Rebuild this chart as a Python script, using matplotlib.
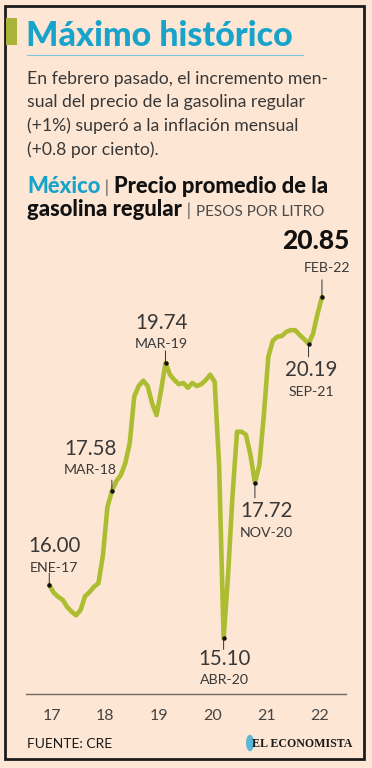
import matplotlib
matplotlib.use('Agg')
import matplotlib.pyplot as plt
from matplotlib.patches import Rectangle, Circle
from matplotlib.lines import Line2D

# precio promedio mensual, ene-17 a feb-22 (pesos por litro)
precio = [16.00, 15.87, 15.80, 15.75, 15.63, 15.55, 15.49, 15.58, 15.81, 15.88, 15.97, 16.03,
          16.50, 17.31, 17.58, 17.75, 17.85, 18.05, 18.39, 19.17, 19.35, 19.44, 19.35, 19.06,
          18.86, 19.27, 19.74, 19.54, 19.45, 19.38, 19.40, 19.32, 19.40, 19.35, 19.38, 19.45,
          19.54, 19.42, 18.00, 15.10, 16.17, 17.52, 18.58, 18.58, 18.53, 18.19, 17.72, 18.02,
          18.86, 19.84, 20.11, 20.18, 20.19, 20.26, 20.29, 20.29, 20.21, 20.14, 20.06, 20.23,
          20.56, 20.85]
meses = list(range(len(precio)))
anios = ['17', '18', '19', '20', '21', '22']

# puntos destacados
dest_idx = [0, 14, 26, 39, 46, 58, 61]
dest_valor = ['16.00', '17.58', '19.74', '15.10', '17.72', '20.19', '20.85']
dest_fecha = ['ENE-17', 'MAR-18', 'MAR-19', 'ABR-20', 'NOV-20', 'SEP-21', 'FEB-22']

W, H = 372, 768
BG = '#fde6d4'
LINE = '#adbd32'
CYAN = '#18a3ca'


def px(x, y):
    return x / W, 1 - y / H


fig = plt.figure(figsize=(W / 100, H / 100), dpi=100, facecolor=BG)

# marco
fig.add_artist(Rectangle(px(5, 759), 359 / W, 753 / H, transform=fig.transFigure,
                         fill=False, ec='#1c1c1c', lw=2))
fig.add_artist(Rectangle(px(6, 45), 11 / W, 27 / H, transform=fig.transFigure,
                         fc='#a9b33a', ec='none'))
fig.add_artist(Line2D([27 / W, 303 / W], [1 - 55 / H] * 2, transform=fig.transFigure,
                      color='#7cc6dd', lw=0.8))

fig.text(*px(26, 46), 'Máximo histórico', color=CYAN, fontsize=24.5, family='Lato',
         fontweight='black', va='baseline')

parrafo = ['En febrero pasado, el incremento men-',
           'sual del precio de la gasolina regular',
           '(+1%) superó a la inflación mensual',
           '(+0.8 por ciento).']
for i, linea in enumerate(parrafo):
    fig.text(*px(27, 84 + i * 23.5), linea, color='#383838', fontsize=12.7, family='Lato',
             fontweight='normal', va='baseline')

fig.canvas.draw()
renderer = fig.canvas.get_renderer()


def linea_mixta(x, y, piezas):
    for s, color, size, weight in piezas:
        t = fig.text(*px(x, y), s, color=color, fontsize=size, family='Lato',
                     fontweight=weight, va='baseline')
        bb = t.get_window_extent(renderer)
        x = bb.x1


linea_mixta(27, 193, [('México', CYAN, 15.8, 'black'), (' | ', '#666666', 13, 'normal'),
                      ('Precio promedio de la', '#111111', 15.8, 'black')])
linea_mixta(27, 216, [('gasolina regular', '#111111', 15.8, 'black'),
                      (' | ', '#666666', 13, 'normal'),
                      ('PESOS POR LITRO', '#4a4a4a', 11, 'normal')])

ax = fig.add_axes([26 / W, 1 - 694 / H, 320 / W, 464 / H])
ax.set_facecolor('none')
ax.plot(meses, precio, color=LINE, lw=3.3, solid_joinstyle='round', solid_capstyle='round')
ax.set_xlim(-5.21, 66.38)
ax.set_ylim(14.165, 21.976)
for s in ['top', 'left', 'right']:
    ax.spines[s].set_visible(False)
ax.spines['bottom'].set_color('#6e6864')
ax.spines['bottom'].set_linewidth(1)
ax.set_yticks([])
ax.set_xticks([12 * i + 0.5 for i in range(len(anios))], anios)
ax.tick_params(axis='x', length=0, pad=11, labelsize=11.5, labelcolor='#444444')
for lab in ax.get_xticklabels():
    lab.set_family('Lato')

# (largo tick, dx texto, dy valor, dy fecha, ha) en pixeles
estilo = {
    'ENE-17': (12, 5, 39, 17, 'center'),
    'MAR-18': (11, 5, 42, 21, 'right'),
    'MAR-19': (12, -4, 40, 19, 'center'),
    'ABR-20': (-11, 1, -21, -42, 'center'),
    'NOV-20': (-15, -15, -28, -50, 'left'),
    'SEP-21': (-13, 3, -26, -48, 'center'),
    'FEB-22': (17, 28, 56, 29, 'right'),
}
k = 0.72  # pixel -> punto
for i, val, fecha in zip(dest_idx, dest_valor, dest_fecha):
    largo, tx, dyv, dyf, ha = estilo[fecha]
    xy = (meses[i], precio[i])
    ax.annotate('', xy=xy, xytext=(0, largo * k), textcoords='offset points',
                arrowprops=dict(arrowstyle='-', color='#333333', lw=0.7, shrinkA=0, shrinkB=0))
    ax.plot(*xy, 'o', color='#111111', ms=2.2, zorder=5)
    bold = fecha == 'FEB-22'
    ax.annotate(val, xy=xy, xytext=(tx * k, dyv * k), textcoords='offset points',
                ha=ha, va='center', fontsize=19 if bold else 14.8, family='Lato',
                fontweight='black' if bold else 'normal', color='#111111' if bold else '#383838',
                annotation_clip=False)
    ax.annotate(fecha, xy=xy, xytext=(tx * k, dyf * k), textcoords='offset points',
                ha=ha, va='center', fontsize=10.2, family='Lato', fontweight='normal',
                color='#3a3a3a', annotation_clip=False)

fig.text(*px(27, 748), 'FUENTE: CRE', color='#1a1a1a', fontsize=10, family='Lato',
         va='baseline')
fig.add_artist(Circle(px(250, 743), 4.0 / W, transform=fig.transFigure, fc='#5ab7d6', ec='none'))
fig.text(*px(352, 747), 'EL ECONOMISTA', color='#1a1a1a', fontsize=8.6,
         family='Liberation Serif', fontweight='bold', ha='right', va='baseline')

fig.savefig('out.png', dpi=100, facecolor=BG)
